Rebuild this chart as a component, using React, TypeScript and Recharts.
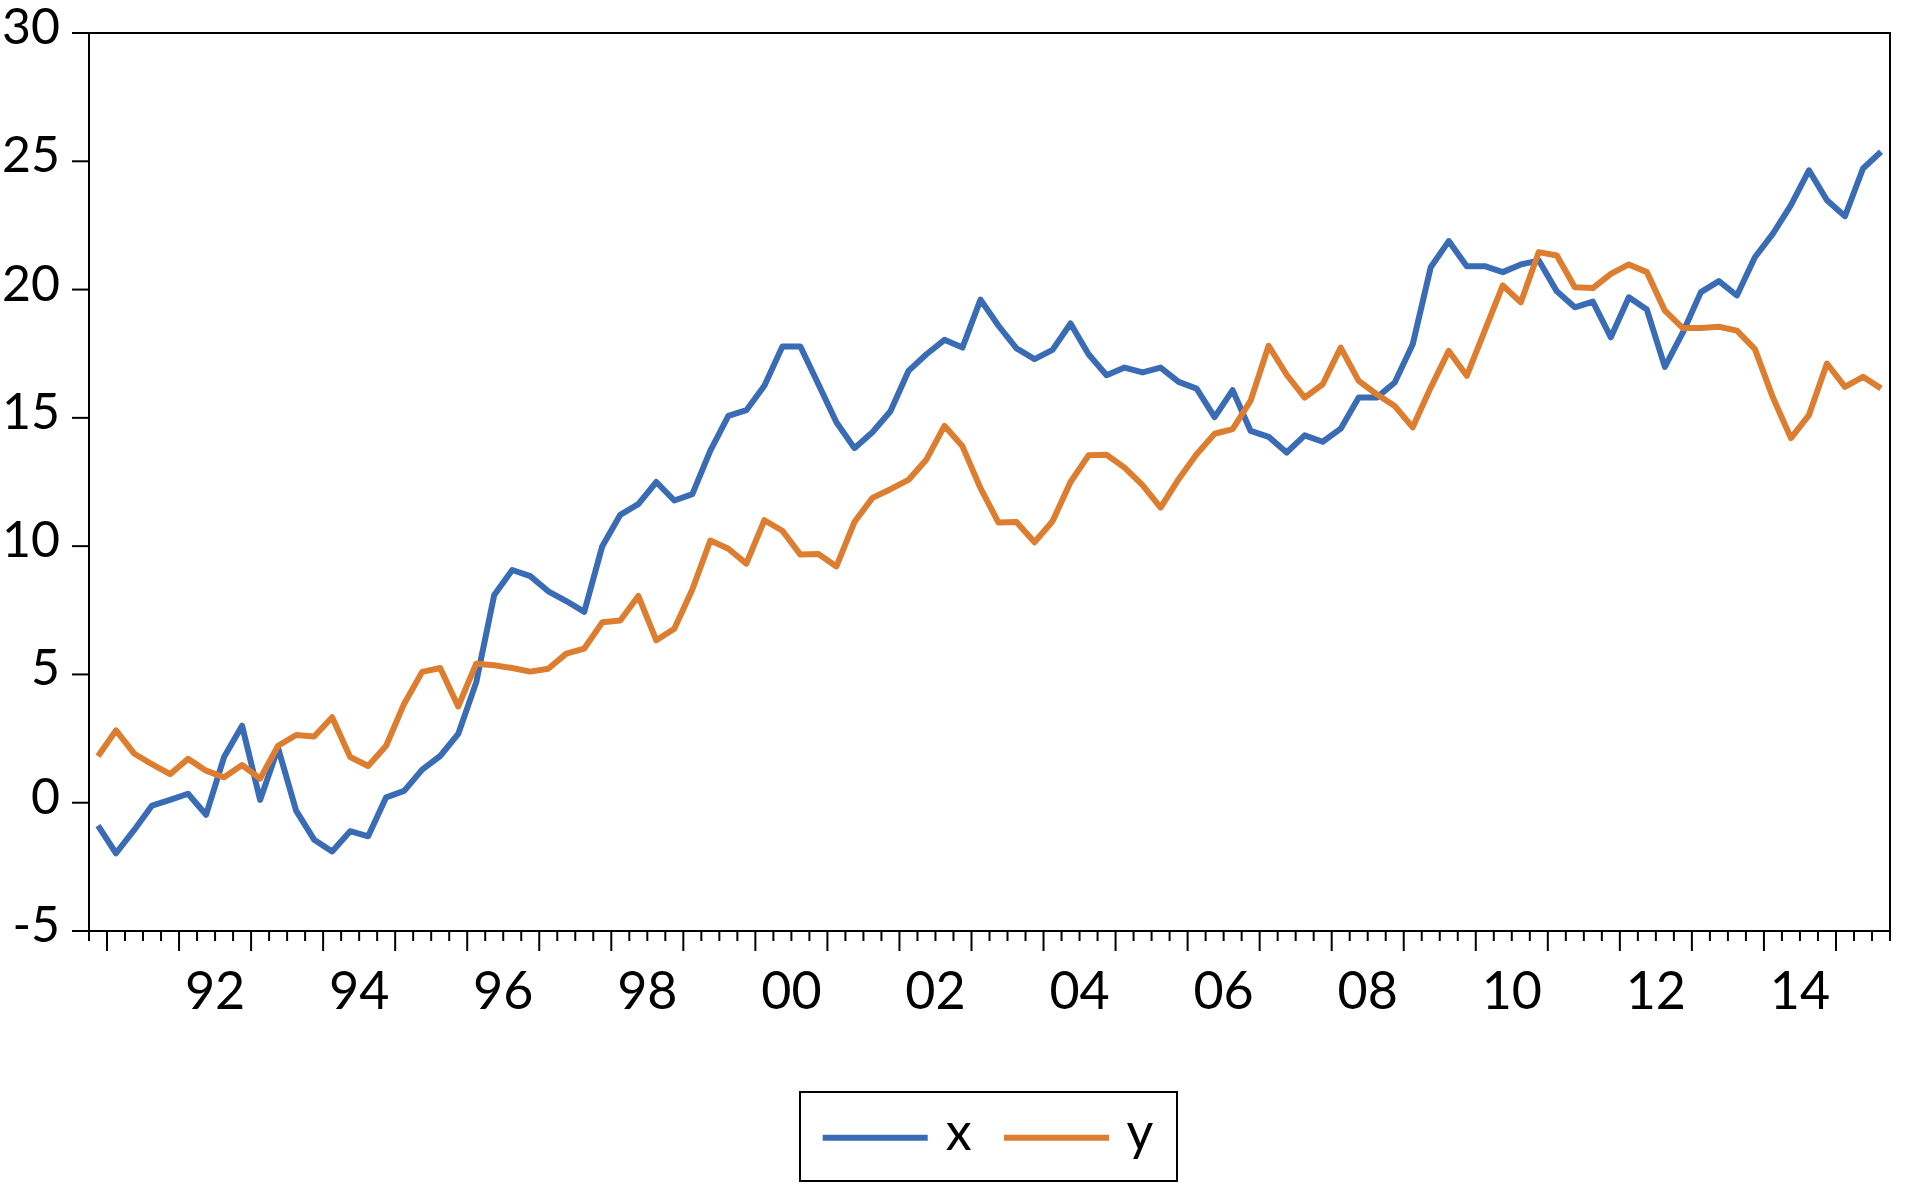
import React from 'react';
import { LineChart, Line, XAxis, YAxis, ReferenceArea } from 'recharts';

// Quarterly observations, 1990Q4 .. 2015Q3
const quarters = [
  '1990Q4',
  '1991Q1', '1991Q2', '1991Q3', '1991Q4',
  '1992Q1', '1992Q2', '1992Q3', '1992Q4',
  '1993Q1', '1993Q2', '1993Q3', '1993Q4',
  '1994Q1', '1994Q2', '1994Q3', '1994Q4',
  '1995Q1', '1995Q2', '1995Q3', '1995Q4',
  '1996Q1', '1996Q2', '1996Q3', '1996Q4',
  '1997Q1', '1997Q2', '1997Q3', '1997Q4',
  '1998Q1', '1998Q2', '1998Q3', '1998Q4',
  '1999Q1', '1999Q2', '1999Q3', '1999Q4',
  '2000Q1', '2000Q2', '2000Q3', '2000Q4',
  '2001Q1', '2001Q2', '2001Q3', '2001Q4',
  '2002Q1', '2002Q2', '2002Q3', '2002Q4',
  '2003Q1', '2003Q2', '2003Q3', '2003Q4',
  '2004Q1', '2004Q2', '2004Q3', '2004Q4',
  '2005Q1', '2005Q2', '2005Q3', '2005Q4',
  '2006Q1', '2006Q2', '2006Q3', '2006Q4',
  '2007Q1', '2007Q2', '2007Q3', '2007Q4',
  '2008Q1', '2008Q2', '2008Q3', '2008Q4',
  '2009Q1', '2009Q2', '2009Q3', '2009Q4',
  '2010Q1', '2010Q2', '2010Q3', '2010Q4',
  '2011Q1', '2011Q2', '2011Q3', '2011Q4',
  '2012Q1', '2012Q2', '2012Q3', '2012Q4',
  '2013Q1', '2013Q2', '2013Q3', '2013Q4',
  '2014Q1', '2014Q2', '2014Q3', '2014Q4',
  '2015Q1', '2015Q2', '2015Q3',
];

const xValues = [
  -0.89,
  -1.97, -1.07, -0.11, 0.11,
  0.35, -0.47, 1.78, 3.0,
  0.11, 2.13, -0.31, -1.44,
  -1.9, -1.11, -1.31, 0.21,
  0.46, 1.29, 1.82, 2.68,
  4.69, 8.1, 9.07, 8.83,
  8.24, 7.86, 7.44, 10.0,
  11.22, 11.64, 12.5, 11.78,
  12.03, 13.72, 15.08, 15.3,
  16.25, 17.78, 17.78, 16.31,
  14.83, 13.82, 14.44, 15.26,
  16.83, 17.48, 18.04, 17.74,
  19.61, 18.59, 17.71, 17.29,
  17.65, 18.68, 17.48, 16.66,
  16.96, 16.77, 16.96, 16.4,
  16.14, 15.03, 16.08, 14.49,
  14.26, 13.65, 14.32, 14.07,
  14.58, 15.79, 15.79, 16.38,
  17.87, 20.87, 21.89, 20.91,
  20.91, 20.68, 20.98, 21.13,
  19.93, 19.31, 19.53, 18.14,
  19.7, 19.22, 16.99, 18.33,
  19.9, 20.33, 19.77, 21.26,
  22.18, 23.29, 24.65, 23.48,
  22.86, 24.72, 25.37,
];

const yValues = [
  1.81,
  2.82, 1.92, 1.5, 1.11,
  1.71, 1.25, 0.99, 1.47,
  0.94, 2.22, 2.64, 2.58,
  3.33, 1.78, 1.43, 2.22,
  3.86, 5.1, 5.25, 3.75,
  5.42, 5.36, 5.25, 5.11,
  5.22, 5.81, 6.01, 7.03,
  7.1, 8.06, 6.33, 6.78,
  8.31, 10.22, 9.9, 9.32,
  11.01, 10.6, 9.67, 9.69,
  9.21, 10.94, 11.88, 12.22,
  12.58, 13.38, 14.69, 13.89,
  12.26, 10.92, 10.94, 10.15,
  10.97, 12.5, 13.54, 13.56,
  13.06, 12.38, 11.5, 12.61,
  13.58, 14.38, 14.56, 15.67,
  17.81, 16.68, 15.79, 16.31,
  17.74, 16.44, 15.92, 15.46,
  14.63, 16.18, 17.61, 16.64,
  18.4, 20.16, 19.5, 21.46,
  21.33, 20.09, 20.06, 20.61,
  20.98, 20.68, 19.18, 18.5,
  18.5, 18.55, 18.4, 17.68,
  15.79, 14.21, 15.11, 17.12,
  16.21, 16.6, 16.15,
];

const yTicks = [-5, 0, 5, 10, 15, 20, 25, 30];
const yearLabels = ['92', '94', '96', '98', '00', '02', '04', '06', '08', '10', '12', '14'];

const SERIES = [
  { key: 'x', name: 'x', color: '#3A6BB5', values: xValues },
  { key: 'y', name: 'y', color: '#DD7D2F', values: yValues },
];

const FONT = 'Lato, "Open Sans", "DejaVu Sans", sans-serif';
const FONT_SIZE = 50;

// quarter label -> time at the middle of the quarter
const quarterMid = (q: string) => {
  const yr = Number(q.slice(0, 4));
  const n = Number(q.slice(5));
  return yr + (n - 1) / 4 + 0.125;
};

const data = quarters.map((q, i) => {
  const row: any = { q, t: quarterMid(q) };
  SERIES.forEach((s) => {
    row[s.key] = s.values[i];
  });
  return row;
});

const tStart = quarterMid(quarters[0]) - 0.125;
const tEnd = quarterMid(quarters[quarters.length - 1]) + 0.125;
const xTicks: number[] = [];
for (let i = 0; tStart + i * 0.25 <= tEnd + 1e-9; i++) xTicks.push(tStart + i * 0.25);

// year labels sit at the middle of their year
const labelAt = new Map<number, string>();
yearLabels.forEach((l) => {
  const n = Number(l);
  const yr = n >= 50 ? 1900 + n : 2000 + n;
  labelAt.set(yr + 0.5, l);
});

const XTick = (props: any) => {
  const { x, y, payload } = props;
  const v = payload.value as number;
  const isYear = Math.abs(v - Math.round(v)) < 1e-6;
  const len = isYear ? 20 : 10;
  const label = labelAt.get(v);
  return (
    <g>
      <line x1={x} y1={y} x2={x} y2={y + len} stroke="#000" strokeWidth={2} />
      {label ? (
        <text x={x} y={y + 78} textAnchor="middle" fontFamily={FONT} fontSize={52} fill="#000">
          {label}
        </text>
      ) : null}
    </g>
  );
};

const YTick = (props: any) => {
  const { x, y, payload } = props;
  return (
    <g>
      <line x1={x - 17} y1={y} x2={x} y2={y} stroke="#000" strokeWidth={2} />
      <text x={x - 29} y={y + 11} textAnchor="end" fontFamily={FONT} fontSize={FONT_SIZE} fill="#000">
        {payload.value}
      </text>
    </g>
  );
};

const Legend = () => {
  const lineStarts = [23.7, 205];
  const textCenters = [159.6, 341];
  return (
    <svg
      width={380}
      height={92}
      style={{ position: 'absolute', left: 799, top: 1091 }}
    >
      <rect x={1} y={1} width={377} height={89} fill="none" stroke="#000" strokeWidth={2} />
      {SERIES.map((s, i) => (
        <g key={s.key}>
          <line x1={lineStarts[i]} x2={lineStarts[i] + 105} y1={46.8} y2={46.8} stroke={s.color} strokeWidth={6} />
          <text x={textCenters[i]} y={59} textAnchor="middle" fontFamily={FONT} fontSize={52} fill="#000">
            {s.name}
          </text>
        </g>
      ))}
    </svg>
  );
};

export default function App() {
  return (
    <div style={{ position: 'absolute', left: 0, top: 0, width: 1909, height: 1190, background: '#fff' }}>
      <LineChart
        width={1909}
        height={1190}
        data={data}
        margin={{ top: 33, right: 19, left: 0, bottom: 159 }}
      >
        <XAxis
          dataKey="t"
          type="number"
          domain={[tStart, tEnd]}
          ticks={xTicks}
          interval={0}
          tick={<XTick />}
          tickLine={false}
          axisLine={false}
          tickSize={0}
          tickMargin={0}
          height={100}
          allowDataOverflow
        />
        <YAxis
          type="number"
          domain={[-5, 30]}
          ticks={yTicks}
          interval={0}
          tick={<YTick />}
          tickLine={false}
          axisLine={false}
          tickSize={0}
          tickMargin={0}
          width={89}
          allowDataOverflow
        />
        <ReferenceArea
          x1={tStart}
          x2={tEnd}
          y1={-5}
          y2={30}
          fill="none"
          fillOpacity={0}
          stroke="#000"
          strokeWidth={2}
          strokeOpacity={1}
          ifOverflow="visible"
        />
        {SERIES.map((s) => (
          <Line
            key={s.key}
            dataKey={s.key}
            name={s.name}
            type="linear"
            stroke={s.color}
            strokeWidth={6}
            strokeLinejoin="round"
            dot={false}
            activeDot={false}
            isAnimationActive={false}
          />
        ))}
      </LineChart>
      <Legend />
    </div>
  );
}
